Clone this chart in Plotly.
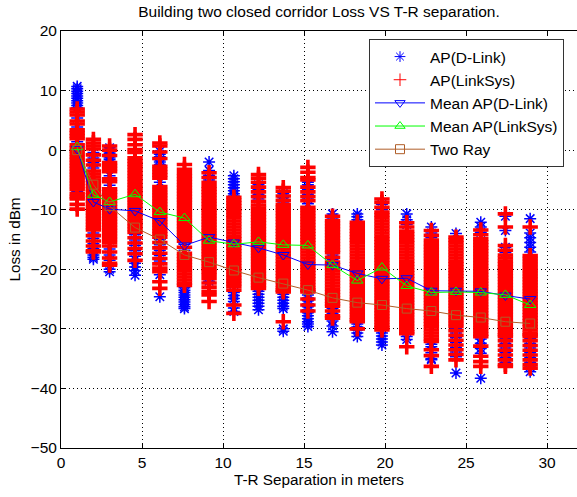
import plotly.graph_objects as go

# T-R separation of each measurement spot (metres)
separation = [1.0, 2.0, 3.0, 4.57, 6.1, 7.62, 9.14, 10.67, 12.19, 13.72,
              15.24, 16.76, 18.29, 19.81, 21.34, 22.86, 24.38, 25.91, 27.43, 28.96]

# received samples at every spot, D-Link access point (dBm)
dlink_samples = [
    [10.7, 10.3, 9.9, 9.5, 9.1, 8.7, 8.3, 7.9, 7.5, 7.1, 5.4, 3.9, 1.4, -6.9],
    [-0.4, -1.3, -2.1, -3.0, -13.9, -14.8, -15.7, -16.5, -17.6, -18.0, -18.3],
    [0.4, 0.1, -0.3, -0.6, -1.0, -1.3, -1.6, -4.3, -5.9, -16.6, -17.6, -18.5, -20.0, -20.4],
    [-14.2, -15.1, -16.0, -16.9, -17.8, -18.4, -19.0, -19.6, -20.2, -21.0],
    [-0.2, -0.7, -1.1, -1.6, -2.0, -2.4, -5.4, -15.0, -15.9, -16.8, -17.7, -18.6, -20.9, -24.6],
    [-15.8, -16.8, -23.1, -23.5, -23.9, -24.3, -24.7, -25.1, -25.5, -25.9, -26.3, -26.6],
    [-2.0, -3.4, -4.2, -5.0, -5.7, -21.3, -22.0],
    [-4.3, -4.8, -5.3, -5.8, -6.3, -6.8, -7.3, -7.7, -23.9, -24.4, -24.9, -25.4, -26.5, -27.1],
    [-5.8, -6.6, -7.4, -8.2, -23.7, -24.2, -24.7, -25.2, -25.7, -26.2, -26.8],
    [-7.3, -8.0, -8.7, -24.2, -24.7, -25.2, -25.7, -26.2, -26.6, -30.0, -30.4],
    [-5.4, -5.8, -6.6, -7.4, -8.2, -9.0, -24.3, -24.8, -25.3, -25.8, -26.3, -26.8,
     -27.3, -27.8, -28.3, -28.8, -29.2, -29.6],
    [-10.7, -11.4, -17.6, -18.4, -26.6, -27.4, -28.7, -29.5, -30.5],
    [-10.7, -11.2, -11.7, -29.2, -29.7, -30.2, -30.7, -31.3],
    [-9.1, -10.0, -30.7, -31.2, -31.7, -32.2, -32.7],
    [-10.7, -11.7, -12.5, -31.3, -31.8],
    [-12.9, -13.9, -14.7, -32.6, -33.0, -34.0, -35.0, -35.2],
    [-14.0, -29.9, -30.7, -31.5, -32.3, -33.1, -33.9, -34.7, -37.4],
    [-12.1, -12.9, -13.8, -31.7, -32.4, -33.3, -34.1, -38.3],
    [-11.1, -13.5, -16.3, -17.2, -31.6, -32.4, -33.2, -34.0, -34.8, -35.6],
    [-11.5, -13.9, -14.7, -15.5, -16.3, -17.1, -31.6, -32.4, -33.2, -34.0, -34.8,
     -35.6, -36.4, -37.2],
]

# received samples at every spot, LinkSys access point (dBm)
linksys_samples = [
    [6.9, 6.4, 5.9, 4.9, 4.4, 3.4, 2.9, 2.4, 1.9, 0.9, 0.4, -0.1, -0.6, -1.1, -1.6,
     -2.1, -2.6, -3.1, -3.6, -4.1, -4.6, -5.1, -5.6, -6.1, -6.6, -7.3, -7.8, -8.2,
     -9.1, -9.9],
    [1.8, 1.2, 0.7, 0.2, -0.8, -1.7, -2.5, -3.5, -4.0, -4.5, -5.0, -5.5, -6.0, -6.5,
     -7.0, -7.5, -8.0, -8.5, -9.0, -9.5, -10.0, -10.5, -11.0, -11.5, -12.0, -12.5,
     -13.0, -13.4, -14.35, -15.25, -16.1, -16.9, -17.1],
    [0.7, 0.0, -0.9, -2.1, -2.6, -3.1, -3.6, -4.8, -5.3, -6.5, -7.0, -7.5, -8.0, -8.5,
     -9.0, -9.5, -10.0, -10.5, -11.0, -11.5, -12.0, -12.5, -13.0, -13.5, -14.0,
     -14.5, -15.0, -15.5, -16.1, -17.1, -18.1, -19.0, -19.3],
    [2.6, 1.8, 0.9, 0.1, -0.4, -1.3, -1.8, -2.3, -2.8, -3.3, -3.8, -4.3, -4.8, -5.3,
     -5.8, -6.3, -6.8, -7.3, -7.8, -8.3, -8.8, -9.3, -9.8, -10.3, -10.8, -11.3,
     -11.8, -12.3, -12.8, -13.3, -13.8, -14.7, -15.6, -16.5, -17.4, -18.5],
    [1.2, 0.7, -0.3, -1.4, -2.7, -3.2, -3.7, -4.2, -4.7, -6.1, -6.6, -7.1, -7.6, -8.1,
     -8.6, -9.1, -9.6, -10.1, -10.6, -11.1, -11.6, -12.1, -12.6, -13.1, -13.6,
     -14.1, -14.6, -15.5, -16.4, -17.3, -18.2, -19.1, -19.8, -20.4, -22.1, -23.2],
    [-2.4, -3.2, -3.8, -4.3, -4.8, -5.3, -5.8, -6.3, -6.8, -7.3, -7.8, -8.3, -8.8,
     -9.3, -9.8, -10.3, -10.8, -11.3, -11.8, -12.3, -12.8, -13.3, -13.8, -14.3,
     -14.8, -15.3, -16.3, -17.3, -17.8, -18.3, -18.8, -19.3, -19.8, -20.3, -20.8,
     -21.3, -21.8, -22.3, -22.7],
    [-3.8, -4.6, -5.4, -6.0, -6.5, -7.0, -7.5, -8.0, -8.5, -9.0, -9.5, -10.0, -10.5,
     -11.0, -11.5, -12.0, -12.5, -13.0, -13.5, -14.0, -14.5, -15.0, -15.5, -16.0,
     -16.5, -17.0, -17.5, -18.0, -18.5, -19.0, -19.5, -20.0, -20.5, -21.0, -21.6,
     -22.3, -23.0, -23.7, -24.3, -25.4],
    [-7.9, -8.4, -8.9, -9.4, -9.9, -10.4, -10.9, -11.4, -11.9, -12.4, -12.9, -13.4,
     -13.9, -14.4, -14.9, -15.4, -15.9, -16.4, -16.9, -17.4, -17.9, -18.4, -18.9,
     -19.4, -19.9, -20.4, -20.9, -21.4, -21.9, -22.4, -22.9, -23.5, -26.0, -27.4],
    [-4.1, -4.7, -5.4, -6.2, -7.0, -7.8, -8.6, -9.2, -9.7, -10.2, -10.7, -11.2, -11.7,
     -12.2, -12.7, -13.2, -13.7, -14.2, -14.7, -15.2, -15.7, -16.2, -16.7, -17.2,
     -17.7, -18.2, -18.7, -19.2, -19.7, -20.2, -20.7, -21.2, -21.7, -22.2, -22.7,
     -23.2],
    [-6.3, -6.9, -7.7, -8.4, -9.1, -9.6, -10.1, -10.6, -11.1, -11.6, -12.1, -12.6,
     -13.1, -13.6, -14.1, -14.6, -15.1, -15.6, -16.1, -16.6, -17.1, -17.6, -18.1,
     -18.6, -19.1, -19.6, -20.1, -20.6, -21.1, -21.6, -22.1, -22.6, -23.1, -23.5,
     -23.8, -28.8],
    [-2.9, -3.7, -4.6, -5.0, -6.2, -7.0, -7.8, -8.5, -9.6, -10.1, -10.6, -11.1, -11.6,
     -12.1, -12.6, -13.1, -13.6, -14.1, -14.6, -15.1, -15.6, -16.1, -16.6, -17.1,
     -17.6, -18.1, -18.6, -19.1, -19.6, -20.1, -20.6, -21.1, -21.6, -22.1, -22.6,
     -23.1, -23.5, -23.8, -25.0, -26.0, -27.0],
    [-11.1, -11.8, -12.3, -12.8, -13.3, -13.8, -14.3, -14.8, -15.3, -15.8, -16.3,
     -16.8, -17.2, -18.0, -18.8, -19.3, -19.8, -20.3, -20.8, -21.3, -21.8, -22.3,
     -22.8, -23.3, -23.8, -24.3, -24.8, -25.3, -25.8, -26.2, -27.0, -27.8, -28.2],
    [-12.1, -12.6, -13.1, -13.6, -14.1, -14.6, -15.1, -15.6, -16.1, -16.6, -17.1,
     -17.6, -18.1, -18.6, -19.1, -19.6, -20.1, -20.6, -21.1, -21.6, -22.1, -22.6,
     -23.1, -23.6, -24.1, -24.6, -25.1, -25.6, -26.1, -26.6, -27.1, -27.6, -28.1,
     -28.5, -28.8, -30.0],
    [-8.2, -8.8, -9.6, -10.4, -10.9, -11.4, -11.9, -12.4, -12.9, -13.4, -13.9, -14.4,
     -14.9, -15.4, -15.9, -16.4, -16.9, -17.4, -17.9, -18.4, -18.9, -19.4, -19.9,
     -20.4, -20.9, -21.4, -21.9, -22.4, -22.9, -23.4, -23.9, -24.4, -24.9, -25.4,
     -25.9, -26.4, -26.9, -27.4, -27.9, -28.4, -28.9, -29.4, -29.8, -30.2],
    [-12.2, -12.9, -13.6, -14.1, -14.6, -15.1, -15.6, -16.1, -16.6, -17.1, -17.6,
     -18.1, -18.6, -19.1, -19.6, -20.1, -20.6, -21.1, -21.6, -22.1, -22.6, -23.1,
     -23.6, -24.1, -24.6, -25.1, -25.6, -26.1, -26.6, -27.1, -27.6, -28.1, -28.6,
     -29.1, -29.6, -30.1, -30.5, -30.8, -33.0],
    [-13.5, -14.3, -15.1, -15.7, -16.2, -16.7, -17.2, -17.7, -18.2, -18.7, -19.2,
     -19.7, -20.2, -20.7, -21.2, -21.7, -22.2, -22.7, -23.2, -23.7, -24.2, -24.7,
     -25.2, -25.7, -26.2, -26.7, -27.2, -27.7, -28.2, -28.7, -29.2, -29.7, -30.2,
     -30.7, -31.2, -31.7, -32.1, -33.5, -34.5, -36.3],
    [-14.6, -15.1, -15.6, -16.1, -16.6, -17.1, -17.6, -18.1, -18.6, -19.1, -19.6,
     -20.1, -20.6, -21.1, -21.6, -22.1, -22.6, -23.1, -23.6, -24.1, -24.6, -25.1,
     -25.6, -26.1, -26.6, -27.1, -27.6, -28.1, -28.6, -29.1, -29.6, -30.3, -31.1,
     -31.9, -32.7, -33.5, -34.3, -35.2],
    [-13.4, -14.2, -14.9, -15.4, -15.9, -16.4, -16.9, -17.4, -17.9, -18.4, -18.9,
     -19.4, -19.9, -20.4, -20.9, -21.4, -21.9, -22.4, -22.9, -23.4, -23.9, -24.4,
     -24.9, -25.4, -25.9, -26.4, -26.9, -27.4, -27.9, -28.4, -28.9, -29.4, -29.9,
     -30.4, -30.9, -31.3, -32.9, -34.6, -35.5, -36.3],
    [-10.7, -12.9, -16.0, -16.8, -17.6, -18.1, -18.6, -19.1, -19.6, -20.1, -20.6,
     -21.1, -21.6, -22.1, -22.6, -23.1, -23.6, -24.1, -24.6, -25.1, -25.6, -26.1,
     -26.6, -27.1, -27.6, -28.1, -28.6, -29.1, -29.6, -30.1, -30.6, -31.0, -31.3,
     -32.0, -32.8, -33.6, -34.4, -35.2, -36.0, -36.3],
    [-12.9, -17.7, -18.2, -18.7, -19.2, -19.7, -20.2, -20.7, -21.2, -21.7, -22.2,
     -22.7, -23.2, -23.7, -24.2, -24.7, -25.2, -25.7, -26.2, -26.7, -27.2, -27.7,
     -28.2, -28.7, -29.2, -29.7, -30.2, -30.7, -31.0, -31.3, -32.0, -32.8, -33.6,
     -34.4, -35.2, -36.0, -36.6],
]

# mean loss per spot and the two-ray model (dBm)
dlink_mean = [0.2, -8.7, -9.9, -10.2, -11.9, -16.0, -14.6, -15.5, -16.4, -17.6,
              -19.2, -19.3, -20.7, -21.6, -21.5, -23.6, -23.6, -23.7, -24.4, -25.0]
linksys_mean = [0.5, -7.5, -8.7, -7.4, -10.4, -11.4, -15.2, -15.8, -15.4, -15.9,
                -16.0, -19.3, -21.9, -19.7, -22.8, -23.9, -23.8, -23.9, -24.3, -26.0]
two_ray = [0.0, -5.8, -9.4, -13.0, -15.0, -17.6, -18.8, -20.2, -21.4, -22.4,
           -23.5, -24.8, -25.6, -26.0, -26.6, -27.0, -27.7, -28.1, -28.8, -29.1]

x_ticks = [0, 5, 10, 15, 20, 25, 30]
y_ticks = [-50, -40, -30, -20, -10, 0, 10, 20]

BLUE = "#0000FF"
RED = "#FF0000"
GREEN = "#00FF00"
BROWN = "#B05E28"
FONT = "Liberation Sans, Arial, sans-serif"


def flatten(groups):
    xs, ys = [], []
    for d, vals in zip(separation, groups):
        xs.extend([d] * len(vals))
        ys.extend(vals)
    return xs, ys


fig = go.Figure()

dx, dy = flatten(dlink_samples)
fig.add_trace(go.Scatter(
    x=dx, y=dy, mode="markers", name="AP(D-Link)", showlegend=False,
    marker=dict(symbol="asterisk-open", size=10, color=BLUE,
                line=dict(width=1.5, color=BLUE)),
))

lx, ly = flatten(linksys_samples)
fig.add_trace(go.Scatter(
    x=lx, y=ly, mode="markers", name="AP(LinkSys)", showlegend=False,
    marker=dict(symbol="cross-thin-open", size=11, color=RED,
                line=dict(width=3.6, color=RED)),
))

fig.add_trace(go.Scatter(
    x=separation, y=dlink_mean, mode="lines+markers", name="Mean AP(D-Link)",
    showlegend=False,
    line=dict(color=BLUE, width=1),
    marker=dict(symbol="triangle-down-open", size=10, color=BLUE,
                line=dict(width=1, color=BLUE)),
))

fig.add_trace(go.Scatter(
    x=separation, y=linksys_mean, mode="lines+markers", name="Mean AP(LinkSys)",
    showlegend=False,
    line=dict(color=GREEN, width=1),
    marker=dict(symbol="triangle-up-open", size=10, color=GREEN,
                line=dict(width=1, color=GREEN)),
))

fig.add_trace(go.Scatter(
    x=separation, y=two_ray, mode="lines+markers", name="Two Ray",
    showlegend=False,
    line=dict(color=BROWN, width=1),
    marker=dict(symbol="square-open", size=9, color=BROWN,
                line=dict(width=1, color=BROWN)),
))

# legend keys with the thin marker glyphs of the key box
legend_keys = [
    ("AP(D-Link)", "markers", BLUE, "asterisk-open"),
    ("AP(LinkSys)", "markers", RED, "cross-thin-open"),
    ("Mean AP(D-Link)", "lines+markers", BLUE, "triangle-down-open"),
    ("Mean AP(LinkSys)", "lines+markers", GREEN, "triangle-up-open"),
    ("Two Ray", "lines+markers", BROWN, "square-open"),
]
for i, (label, mode, colour, symbol) in enumerate(legend_keys):
    fig.add_trace(go.Scatter(
        x=[None], y=[None], mode=mode, name=label, legendgroup=f"k{i}",
        line=dict(color=colour, width=1),
        marker=dict(symbol=symbol, size=9, color=colour,
                    line=dict(width=1, color=colour)),
    ))

grid = dict(showgrid=True, gridcolor="black", gridwidth=1, griddash="1px,3px",
            zeroline=False, showline=True, linecolor="black", linewidth=1,
            ticks="inside", ticklen=5, tickcolor="black",
            tickfont=dict(family=FONT, size=15.5, color="black"))

fig.update_layout(
    width=577, height=497,
    margin=dict(l=61, r=0, t=31, b=49),
    paper_bgcolor="white", plot_bgcolor="white",
    font=dict(family=FONT, color="black"),
    title=dict(text="Building two closed corridor Loss VS T-R separation.",
               x=0.5, xref="paper", y=1 - 12 / 497, yref="container",
               xanchor="center", yanchor="middle",
               font=dict(family=FONT, size=15.5, color="black")),
    xaxis=dict(range=[0, 31.85], tickvals=x_ticks, mirror="ticks",
               title=dict(text="T-R Separation in meters", standoff=4,
                          font=dict(family=FONT, size=15.3, color="black")),
               **grid),
    yaxis=dict(range=[-50, 20], tickvals=y_ticks, mirror=False,
               title=dict(text="Loss in dBm", standoff=6,
                          font=dict(family=FONT, size=15.3, color="black")),
               **grid),
    legend=dict(x=(369 - 61) / 516, y=1 - 8 / 417, xanchor="left", yanchor="top",
                bgcolor="white", bordercolor="#333333", borderwidth=1,
                traceorder="grouped", tracegroupgap=0, itemwidth=50,
                font=dict(family=FONT, size=15.5, color="black")),
    showlegend=True,
)

fig.write_html("out.html")
